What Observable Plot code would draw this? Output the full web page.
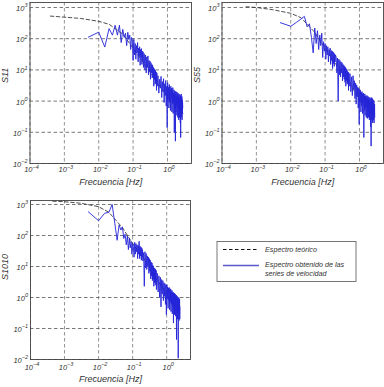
<!DOCTYPE html>
<html>
<head>
<meta charset="utf-8">
<script src="https://cdn.jsdelivr.net/npm/d3@7"></script>
<script src="https://cdn.jsdelivr.net/npm/@observablehq/plot@0.6"></script>
<style>
  html, body { margin: 0; padding: 0; background: #fff; }
  #wrap { position: relative; width: 384px; height: 387px; overflow: hidden; background: #fff; }
  #wrap > div, #wrap > svg { position: absolute; }
</style>
</head>
<body>
<div id="wrap"></div>
<script>
// ---------- data ----------
const freq = [
  0.005,0.01,0.015,0.02,0.025,0.03,0.035,0.04,0.045,0.05,0.055,0.06,0.065,0.07,0.075,0.08,0.085,0.09,0.095,0.1,
  0.105,0.11,0.115,0.12,0.125,0.13,0.135,0.14,0.145,0.15,0.155,0.16,0.165,0.17,0.175,0.18,0.185,0.19,0.195,0.2,
  0.21,0.22,0.23,0.24,0.25,0.26,0.27,0.28,0.29,0.3,0.31,0.32,0.33,0.34,0.35,0.36,0.37,0.38,0.39,0.4,
  0.41,0.42,0.43,0.44,0.45,0.46,0.47,0.48,0.49,0.5,
  0.53,0.56,0.59,0.62,0.65,0.68,0.71,0.74,0.77,0.80,0.83,0.86,0.89,0.92,0.95,0.98,1.01,1.04,1.07,1.10,
  1.13,1.16,1.19,1.22,1.25,1.28,1.31,1.34,1.37,1.40,1.43,1.46,1.49,1.52,1.55,1.58,1.61,1.64,1.67,1.70,
  1.73,1.76,1.79,1.82,1.85,1.88,1.91,1.94,1.97,2.00,2.03,2.06,2.09,2.12,2.15,2.18,2.21,2.24,2.27,2.30,
  2.33,2.36,2.39,2.42,2.45,2.48,2.51,2.54,2.57,2.60,2.63,2.66,2.69,2.72,2.75,2.78
];
const s11 = [
  112,162,54,210,130,270,130,270,75,200,110,150,60,160,95,130,45,110,90,20,
  95,30,70,22,60,35,75,18,50,28,55,14,45,25,48,15,40,20,38,12,
  33,10,30,8,26,12,28,7,20,9,19,5,17,8,15,5.5,14,6,12,3,
  11,5,10,3.5,9.5,4,8.5,2.2,8,3,
  6.5,1.8,5.0,2.6,6.2,1.3,4.2,2.0,5.2,0.9,
  3.6,1.5,4.6,0.7,3.0,0.14,3.9,1.1,2.8,0.6,
  3.4,0.9,2.4,0.5,3.0,1.2,2.6,0.45,2.2,0.8,
  2.7,0.4,1.8,0.9,2.3,0.1,1.9,0.6,2.1,0.052,
  1.6,0.45,2.0,0.7,1.5,0.35,1.9,0.8,1.4,0.3,
  1.8,0.6,1.3,0.25,1.7,0.5,1.2,0.3,1.6,0.7,
  1.1,0.2,1.5,0.068,1.2,0.4,1.7,0.3,1.0,0.5,
  1.4,0.25,1.1,0.4,0.9,0.6
];
const s55 = [
  325,250,340,430,520,240,300,110,35,220,70,180,45,130,60,150,25,80,40,70,
  22,60,30,55,18,45,28,50,15,42,20,40,11,38,16,35,13,32,18,30,
  26,8,24,1.0,22,7,20,6,18,8,17,4.5,15,6,14,5,13,4,12,3,
  11,4.5,10,3.5,9,4,8.5,2.2,8,3,
  7.5,2.0,6.0,1.5,6.5,2.4,4.5,1.2,3.8,0.8,
  3.3,1.4,2.8,0.6,2.6,0.18,2.4,0.9,2.2,0.45,
  1.9,0.7,2.0,0.4,1.7,0.9,1.8,0.068,1.5,0.5,
  1.7,0.35,1.4,0.6,1.5,0.3,1.3,0.7,1.5,0.28,
  1.2,0.5,1.4,0.3,1.1,0.6,1.3,0.25,1.0,0.5,
  1.3,0.3,0.9,0.15,1.2,0.036,1.0,0.4,1.3,0.25,
  0.9,0.5,1.2,0.2,0.8,0.45,1.1,0.25,0.7,0.4,
  1.0,0.2,0.6,0.35,0.8,0.3
];
const s1010 = [
  580,300,520,560,1000,240,70,220,150,190,80,110,50,95,35,80,40,65,25,55,
  45,20,60,25,55,30,50,18,48,25,65,18,45,22,42,16,40,20,35,15,
  28,2.3,30,9,26,8,22,10,20,6,18,7,16,4,14,5,13,3.5,11,4,
  10,2.3,9,3,8.5,3,8,2.5,7.5,1.8,
  6.0,1.5,5.0,1.0,4.5,0.5,3.8,1.3,3.5,0.8,
  3.0,1.1,2.8,0.6,2.5,0.28,2.6,0.9,2.2,0.45,
  2.0,0.8,2.1,0.4,1.8,0.7,1.9,0.35,1.6,0.6,
  1.7,0.3,1.4,0.55,1.5,0.15,1.3,0.5,1.4,0.28,
  1.2,0.45,1.3,0.25,1.1,0.4,1.2,0.044,1.0,0.35,
  1.1,0.2,0.9,0.4,1.0,0.011,0.8,0.3,1.0,0.18,
  0.7,0.35,0.9,0.2,0.5
];
// theoretical spectra (dashed)
const tf11 = [0.00039,0.001,0.003,0.01,0.02,0.05,0.1,0.2,0.5,1,2.8];
const ts11 = [530,490,445,360,290,140,50,17,4,1.4,0.4];
const tf55 = [0.0005,0.001,0.003,0.01,0.02,0.05,0.1,0.2,0.5,1,2.8];
const ts55 = [1050,1000,850,650,470,160,50,16,4,1.1,0.35];
const tf1010 = [0.00045,0.001,0.003,0.01,0.02,0.05,0.1,0.2,0.5,1,2.5];
const ts1010 = [1280,1230,1100,850,560,180,55,20,4,1.3,0.4];

const xTicks = [1e-4,1e-3,1e-2,1e-1,1];
const xTickLabels = ["10^−4","10^−3","10^−2","10^−1","10^0"];
const yTicks = [1e-2,1e-1,1,10,100,1000];
const yTickLabels = ["10^−2","10^−1","10^0","10^1","10^2","10^3"];
const panelLabels = ["S11","S55","S1010"];
const xLabel = "Frecuencia [Hz]";
const legendLabels = ["Espectro teórico","Espectro obtenido de las","series de velocidad"];

// ---------- drawing ----------
const FONT = "Liberation Sans, Arial, Helvetica, sans-serif";
const wrap = document.getElementById("wrap");

function superscripts(svg) {
  svg.querySelectorAll("text").forEach(t => {
    const m = /^10\^(.+)$/.exec(t.textContent);
    if (!m) return;
    t.textContent = "10";
    const ts = document.createElementNS("http://www.w3.org/2000/svg", "tspan");
    ts.setAttribute("dy", "-3.5");
    ts.setAttribute("font-size", "5.5");
    ts.textContent = m[1];
    t.appendChild(ts);
  });
}

function panel(opts) {
  const data = opts.s.map((v, i) => ({f: freq[i], s: v}));
  const tdata = opts.ts.map((v, i) => ({f: opts.tf[i], s: v}));
  const svg = Plot.plot({
    width: opts.width, height: opts.height,
    marginLeft: opts.ml, marginRight: opts.mr, marginTop: opts.mt, marginBottom: opts.mb,
    x: {type: "log", domain: [1e-4, 5], axis: null},
    y: {type: "log", domain: opts.yDomain, axis: null},
    style: {fontFamily: FONT, background: "transparent", overflow: "visible"},
    marks: [
      Plot.ruleX(xTicks, {x: d => d, stroke: "#777", strokeWidth: 0.8, strokeDasharray: "3.5,2.5"}),
      Plot.ruleY(yTicks, {y: d => d, stroke: "#555", strokeWidth: 0.8, strokeDasharray: "3.5,2.5"}),
      Plot.line(tdata, {x: "f", y: "s", stroke: "#222", strokeWidth: 0.8, strokeDasharray: "3.5,2.5"}),
      Plot.line(data, {x: "f", y: "s", stroke: "#2424d8", strokeWidth: 0.9}),
      Plot.frame({stroke: "#444", strokeWidth: 0.9}),
      Plot.text(xTicks, {x: d => d, frameAnchor: "bottom", dy: opts.tickDy, dx: 1.5,
        text: (d, i) => xTickLabels[i], fontSize: 7.5, fontStyle: "italic", fill: "#333", textAnchor: "middle"}),
      Plot.text(yTicks, {y: d => d, frameAnchor: "left", dx: -2.5, dy: 1,
        text: (d, i) => yTickLabels[i], fontSize: 7.5, fontStyle: "italic", fill: "#333", textAnchor: "end"}),
      Plot.text([xLabel], {frameAnchor: "bottom", dy: opts.labelDy, text: d => d,
        fontSize: 9, fontStyle: "italic", fill: "#333"}),
      Plot.text([opts.label], {frameAnchor: "left", dx: -25, rotate: -90, text: d => d,
        fontSize: 9, fontStyle: "italic", fill: "#333"})
    ]
  });
  superscripts(svg);
  const div = document.createElement("div");
  div.style.left = opts.left + "px";
  div.style.top = opts.top + "px";
  div.appendChild(svg);
  wrap.appendChild(div);
}

panel({s: s11, tf: tf11, ts: ts11, label: panelLabels[0], left: 0, top: 0,
  width: 192, height: 195, ml: 29.5, mr: 1, mt: 2, mb: 32, yDomain: [0.01, 1445], tickDy: 8.5, labelDy: 21});
panel({s: s55, tf: tf55, ts: ts55, label: panelLabels[1], left: 192, top: 0,
  width: 192, height: 195, ml: 29.5, mr: 1, mt: 2, mb: 32, yDomain: [0.01, 1445], tickDy: 8.5, labelDy: 21});
panel({s: s1010, tf: tf1010, ts: ts1010, label: panelLabels[2], left: 0, top: 195,
  width: 192, height: 192, ml: 30, mr: 2, mt: 5, mb: 28, yDomain: [0.01, 1346], tickDy: 10, labelDy: 22});

// ---------- legend ----------
const leg = d3.create("svg").attr("width", 384).attr("height", 387)
  .style("left", "0px").style("top", "0px").style("font-family", FONT);
leg.append("rect").attr("x", 217).attr("y", 241.5).attr("width", 139).attr("height", 40)
  .attr("fill", "#fff").attr("stroke", "#555").attr("stroke-width", 0.8);
leg.append("line").attr("x1", 223).attr("x2", 259).attr("y1", 249.5).attr("y2", 249.5)
  .attr("stroke", "#111").attr("stroke-width", 1).attr("stroke-dasharray", "3.5,2.5");
leg.append("line").attr("x1", 223).attr("x2", 259).attr("y1", 265.5).attr("y2", 265.5)
  .attr("stroke", "#5a5acc").attr("stroke-width", 1.4);
const lt = (txt, y) => leg.append("text").attr("x", 265).attr("y", y).attr("dy", "0.32em")
  .attr("font-size", 7.2).attr("font-style", "italic").attr("fill", "#333").text(txt);
lt(legendLabels[0], 249.5);
lt(legendLabels[1], 264.3);
lt(legendLabels[2], 273.3);
wrap.appendChild(leg.node());
</script>
</body>
</html>
